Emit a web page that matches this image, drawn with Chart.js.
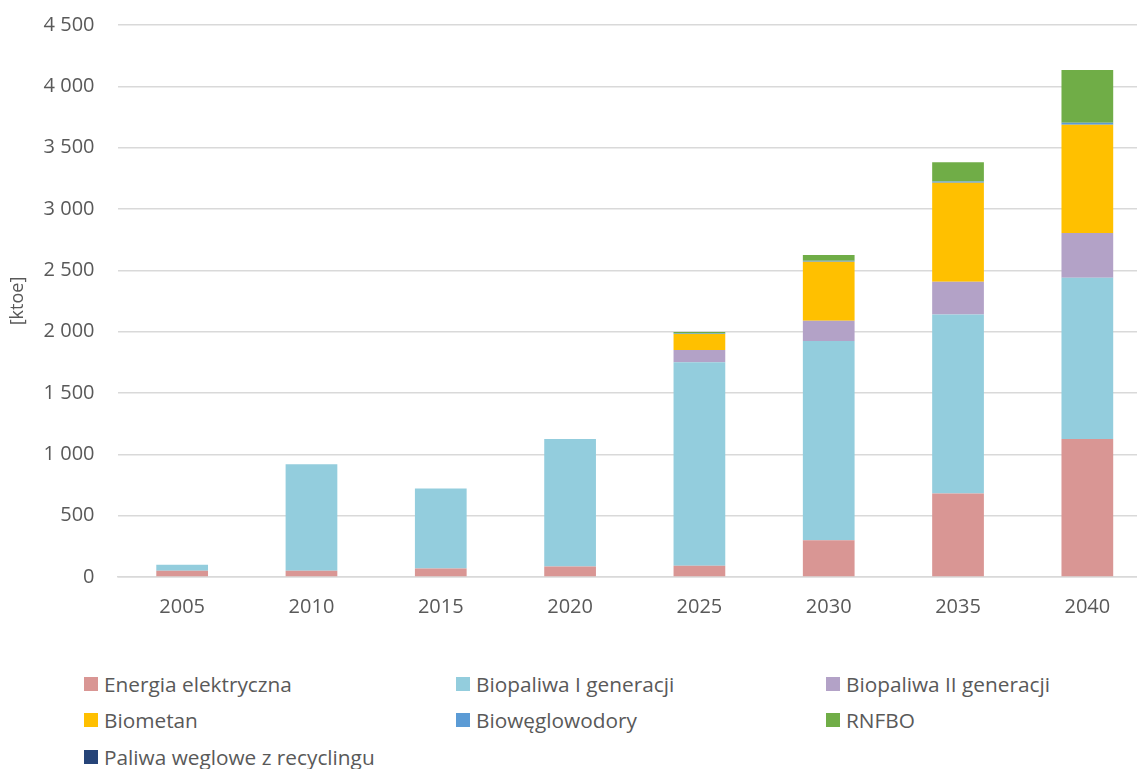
<!DOCTYPE html>
<html>
<head>
<meta charset="utf-8">
<script src="https://cdn.jsdelivr.net/npm/chart.js@4"></script>
<style>
  html, body { margin:0; padding:0; background:#fff; overflow:hidden; }
  #wrap { position:relative; width:1137px; height:769px; overflow:hidden; }
  #c { position:absolute; left:0; top:-10px; }
  .lg { position:absolute; font-family:"Open Sans", sans-serif; font-size:20.8px; color:#595959; white-space:nowrap; line-height:24px; }
  .lg span.box { position:absolute; left:0; top:5px; width:14px; height:14px; }
  .lg span.txt { position:absolute; left:20px; top:0; }
</style>
</head>
<body>
<div id="wrap">
  <canvas id="c" width="1152" height="650"></canvas>
</div>
<script>
const categories = ["2005", "2010", "2015", "2020", "2025", "2030", "2035", "2040"];
const seriesNames = ["Energia elektryczna", "Biopaliwa I generacji", "Biopaliwa II generacji", "Biometan", "Biowęglowodory", "RNFBO", "Paliwa weglowe z recyclingu"];
const energiaElektryczna = [50, 50, 70, 85, 92, 300, 680, 1125];
const biopaliwaI = [50, 870, 652, 1040, 1658, 1624, 1460, 1315];
const biopaliwaII = [0, 0, 0, 0, 100, 166, 266, 364];
const biometan = [0, 0, 0, 0, 131, 480, 807, 883];
const bioweglowodory = [0, 0, 0, 0, 5, 9, 12, 16];
const rnfbo = [0, 0, 0, 0, 11, 46, 157, 430];
const paliwaWeglowe = [0, 0, 0, 0, 0, 0, 0, 0];
const yTicks = [0, 500, 1000, 1500, 2000, 2500, 3000, 3500, 4000, 4500];
const colors = ["#D99694", "#93CDDD", "#B3A2C7", "#FFC000", "#5B9BD5", "#70AD47", "#264478"];

const seriesValues = [energiaElektryczna, biopaliwaI, biopaliwaII, biometan, bioweglowodory, rnfbo, paliwaWeglowe];

function fmt(v) {
  return String(v).replace(/\B(?=(\d{3})+(?!\d))/g, " ");
}

const FONT = "'Open Sans', sans-serif";
const TXT = "#595959";

new Chart(document.getElementById("c"), {
  type: "bar",
  data: {
    labels: categories,
    datasets: seriesNames.map((n, i) => ({
      label: n,
      data: seriesValues[i],
      backgroundColor: colors[i],
      borderWidth: 0,
      barPercentage: 0.4,
      categoryPercentage: 1.0
    }))
  },
  options: {
    responsive: false,
    animation: false,
    devicePixelRatio: 1,
    layout: { padding: { left: 0, right: 0, top: 15, bottom: 0 } },
    plugins: { legend: { display: false }, tooltip: { enabled: false } },
    scales: {
      x: {
        stacked: true,
        grid: { display: false, drawTicks: false },
        border: { display: true, color: "#d9d9d9", width: 1.5 },
        ticks: { color: TXT, font: { family: FONT, size: 20 }, padding: 18 },
        afterFit: s => { s.height = 63; }
      },
      y: {
        stacked: true,
        min: 0, max: 4500,
        afterBuildTicks: s => { s.ticks = yTicks.map(v => ({ value: v })); },
        grid: { color: "#d9d9d9", lineWidth: 1.5, drawTicks: false },
        border: { display: false },
        ticks: { color: TXT, font: { family: FONT, size: 20 }, padding: 23, callback: v => fmt(v) },
        title: { display: true, text: "[ktoe]", color: TXT, font: { family: FONT, size: 18 }, padding: { top: 7, bottom: 0 } },
        afterFit: s => { s.width = 117.5; }
      }
    }
  }
});

// Legend (HTML, three columns)
const wrap = document.getElementById("wrap");
const colX = [84, 456, 826];
const rowY = [684, 720, 757];
seriesNames.forEach((n, i) => {
  const d = document.createElement("div");
  d.className = "lg";
  d.style.left = colX[i % 3] + "px";
  d.style.top = (rowY[Math.floor(i / 3)] - 12) + "px";
  d.innerHTML = '<span class="box" style="background:' + colors[i] + '"></span><span class="txt">' + n + '</span>';
  wrap.appendChild(d);
});
</script>
</body>
</html>
